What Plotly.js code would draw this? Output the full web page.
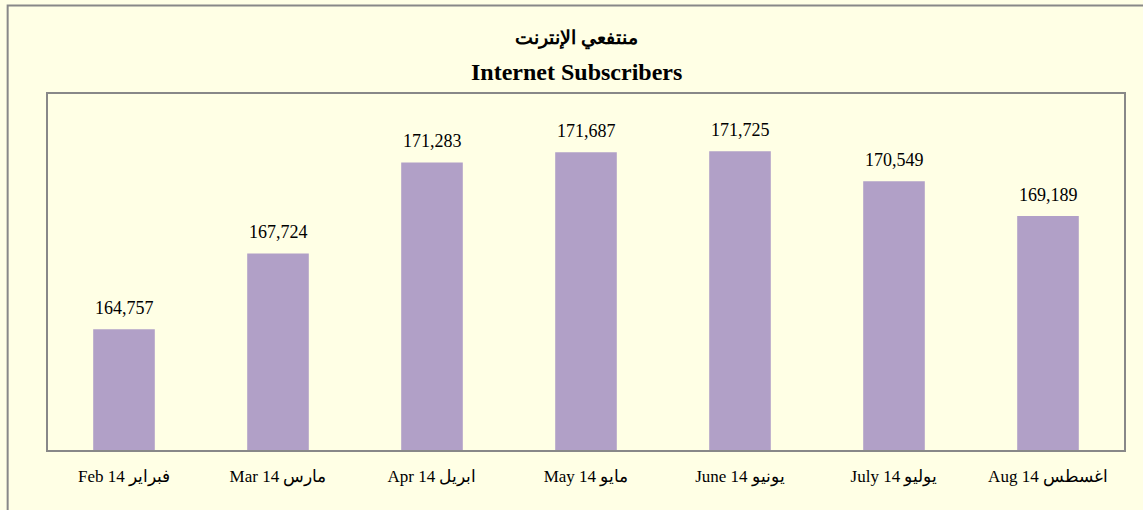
<!DOCTYPE html>
<html>
<head>
<meta charset="utf-8">
<script src="https://cdn.plot.ly/plotly-3.0.1.min.js"></script>
<style>html,body{margin:0;padding:0;background:#FFFFE5;}#chart{width:1143px;height:510px;}</style>
</head>
<body>
<div id="chart"></div>
<script>
const months = ["Feb 14 فبراير", "Mar 14 مارس", "Apr 14 ابريل", "May 14 مايو", "June 14 يونيو", "July 14 يوليو", "Aug 14 اغسطس"];
const subscribers = [164757, 167724, 171283, 171687, 171725, 170549, 169189];
const titleArabic = "منتفعي الإنترنت";
const titleEnglish = "Internet Subscribers";

const fontFam = "Liberation Serif, Times New Roman, serif";

const trace = {
  type: "bar",
  x: months,
  y: subscribers,
  marker: {color: "#B1A0C7"},
  hoverinfo: "x+y"
};

const labelAnns = months.map((m, i) => ({
  x: m, y: subscribers[i], xref: "x", yref: "y",
  text: subscribers[i].toLocaleString("en-US"),
  showarrow: false, yanchor: "bottom", yshift: 9,
  font: {family: fontFam, size: 18, color: "#000"}
}));

const layout = {
  width: 1143, height: 510,
  paper_bgcolor: "#FFFFE5",
  plot_bgcolor: "#FFFFE5",
  margin: {l: 47, r: 18, t: 93, b: 59},
  bargap: 0.6,
  showlegend: false,
  xaxis: {
    type: "category",
    showgrid: false, zeroline: false, showline: false,
    ticks: "", ticklabelstandoff: 13,
    tickfont: {family: fontFam, size: 17, color: "#000"}
  },
  yaxis: {
    range: [160000, 174000],
    showgrid: false, zeroline: false, showline: false,
    showticklabels: false, ticks: ""
  },
  shapes: [
    {type: "rect", xref: "paper", yref: "paper", x0: 0, x1: 1, y0: 0, y1: 1,
     line: {color: "#888888", width: 2}, fillcolor: "rgba(0,0,0,0)", layer: "above"},
    {type: "rect", xref: "paper", yref: "paper", x0: -0.0365, x1: 1.2, y0: -0.4, y1: 1.2445,
     line: {color: "#888888", width: 2}, fillcolor: "rgba(0,0,0,0)", layer: "above"}
  ],
  annotations: labelAnns.concat([
    {xref: "paper", yref: "paper", x: 0.4915, y: 1.1536, yanchor: "middle",
     text: "<b>" + titleArabic + "</b>", showarrow: false,
     font: {family: fontFam, size: 19, color: "#000"}},
    {xref: "paper", yref: "paper", x: 0.4915, y: 1.0587, yanchor: "middle",
     text: "<b>" + titleEnglish + "</b>", showarrow: false,
     font: {family: fontFam, size: 24, color: "#000"}}
  ])
};

Plotly.newPlot("chart", [trace], layout, {displayModeBar: false, staticPlot: true});
</script>
</body>
</html>
